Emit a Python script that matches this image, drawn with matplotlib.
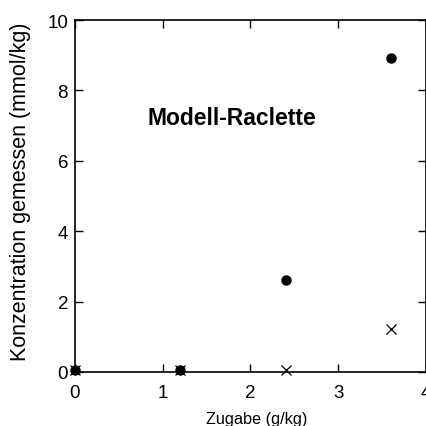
import matplotlib
matplotlib.use("Agg")
import matplotlib.pyplot as plt

plt.rcParams['font.family'] = ['Liberation Sans', 'DejaVu Sans']

# Modell-Raclette: Zugabe vs. gemessene Konzentration
zugabe = [0.0, 1.2, 2.4, 3.6]
dots = [0.05, 0.05, 2.6, 8.92]
crosses = [0.05, 0.05, 0.05, 1.22]

fig = plt.figure(figsize=(4.27, 4.27), dpi=100)
ax = fig.add_axes([0.1756, 0.1265, 0.8221, 0.8243])

ax.plot(zugabe, dots, 'o', color='black', markersize=6.5, clip_on=False)
ax.plot(zugabe, crosses, 'x', color='black', markersize=7.5, markeredgewidth=0.9, clip_on=False)

ax.set_xlim(0, 4)
ax.set_ylim(0, 10)
ax.set_xticks([0, 1, 2, 3, 4])
ax.set_yticks([0, 2, 4, 6, 8, 10])
ax.tick_params(direction='in', top=True, right=True, length=6, width=1, labelsize=13.5)
ax.tick_params(axis='x', pad=9)
ax.tick_params(axis='y', pad=5)
for s in ax.spines.values():
    s.set_linewidth(1.2)

ax.text(1.79, 7.24, "Modell-Raclette", fontsize=16.5, fontweight='bold', ha='center', va='center')
ax.set_xlabel("Zugabe (g/kg)", fontsize=11.7)
ax.set_ylabel("Konzentration gemessen (mmol/kg)", fontsize=15.5)
ax.xaxis.set_label_coords(0.519, -0.11)
ax.yaxis.set_label_coords(-0.125, 0.514)

fig.savefig("out.png", dpi=100)
